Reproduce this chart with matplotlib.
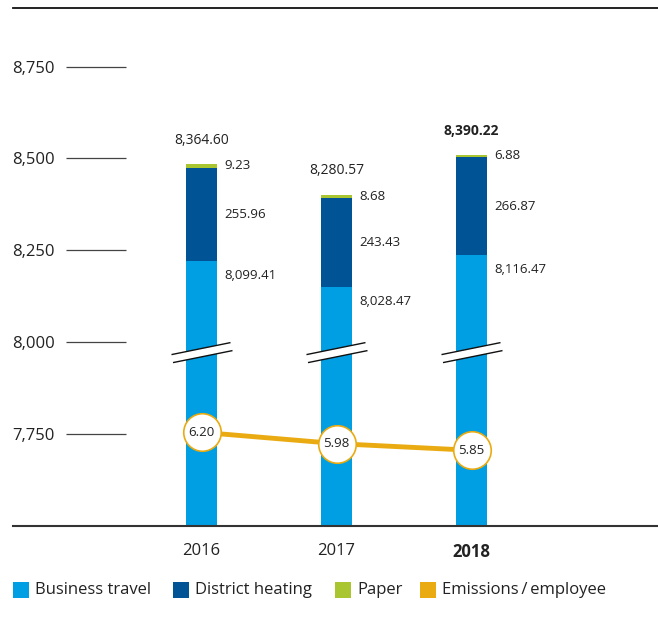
import matplotlib
matplotlib.use("Agg")
import matplotlib.pyplot as plt
from matplotlib.patches import Rectangle, Polygon
import numpy as np

plt.rcParams['font.family'] = ['Open Sans', 'Noto Sans', 'DejaVu Sans']

# Daten
years = ['2016', '2017', '2018']
business_travel = [8099.41, 8028.47, 8116.47]
district_heating = [255.96, 243.43, 266.87]
paper = [9.23, 8.68, 6.88]
totals = [8364.60, 8280.57, 8390.22]
emissions_per_employee = [6.20, 5.98, 5.85]
tick_labels = [7750, 8000, 8250, 8500, 8750]

# Farben
c_bt = '#009fe3'
c_dh = '#005395'
c_pa = '#a9c52f'
c_em = '#e9ab11'
c_txt = '#222222'

# die Achse ist im Original um ca. 120 verschoben beschriftet
axis_shift = 120

W, H = 658, 630
fig = plt.figure(figsize=(W / 100, H / 100), dpi=100)
ax = fig.add_axes([13 / W, (H - 526) / H, 645 / W, 518 / H])

x = np.arange(len(years))
bw = 31 / 135
bt = np.array(business_travel)
dh = np.array(district_heating)
pa = np.array(paper)

ax.bar(x, bt, bw, color=c_bt, zorder=2)
ax.bar(x, dh, bw, bottom=bt, color=c_dh, zorder=2)
ax.bar(x, pa, bw, bottom=bt + dh, color=c_pa, zorder=2)

ax.set_xlim(-188.5 / 135, -188.5 / 135 + 645 / 135)
ax.set_ylim(7498.5 - axis_shift, 8910 - axis_shift)

# y-Achse: Ticks als kurze Linien links
ax.spines['left'].set_position(('axes', 113 / 645))
ax.spines['left'].set_visible(False)
ax.spines['right'].set_visible(False)
ax.spines['top'].set_color('#111111')
ax.spines['top'].set_linewidth(1.3)
ax.spines['bottom'].set_color('#333333')
ax.spines['bottom'].set_linewidth(1.5)
ax.set_yticks([t - axis_shift for t in tick_labels])
ax.set_yticklabels([f'{t:,}' for t in tick_labels])
ax.tick_params(axis='y', direction='out', length=43.2, width=0.9,
               color='#444444', pad=7.9, labelsize=12, labelcolor=c_txt)
ax.set_xticks(x)
ax.set_xticklabels(years)
ax.tick_params(axis='x', length=0, pad=12, labelsize=12, labelcolor=c_txt)
ax.get_xticklabels()[-1].set_fontweight('bold')

# Beschriftungen
for i in range(len(years)):
    top = bt[i] + dh[i] + pa[i]
    ax.annotate(f'{totals[i]:,.2f}', (x[i], top), xytext=(0, 17.3),
                textcoords='offset points', ha='center', va='center',
                fontsize=10, color=c_txt,
                fontweight='bold' if i == len(years) - 1 else 'normal')
    xr = x[i] + bw / 2
    ax.annotate(f'{paper[i]:.2f}', (xr, bt[i] + dh[i] + pa[i] / 2), xytext=(5, 0),
                textcoords='offset points', ha='left', va='center', fontsize=9.5, color=c_txt)
    ax.annotate(f'{district_heating[i]:.2f}', (xr, bt[i] + dh[i] / 2), xytext=(5, 0),
                textcoords='offset points', ha='left', va='center', fontsize=9.5, color=c_txt)
    ax.annotate(f'{business_travel[i]:,.2f}', (xr, bt[i]), xytext=(5, -10),
                textcoords='offset points', ha='left', va='center', fontsize=9.5, color=c_txt)

# Achsenbruch
px = 1 / 135
py = (8910 - 7498.5) / 518
yc = 7971 - axis_shift
for xi in x:
    l1 = [(xi - 30 * px, yc - 2 * py), (xi + 29 * px, yc + 10 * py)]
    l2 = [(xi - 28.5 * px, yc - 10 * py), (xi + 31 * px, yc + 2 * py)]
    ax.add_patch(Polygon([l1[0], l1[1], l2[1], l2[0]], closed=True,
                         facecolor='white', edgecolor='none', zorder=3))
    ax.plot(*zip(*l1), color='#111111', lw=1, zorder=4, solid_capstyle='butt')
    ax.plot(*zip(*l2), color='#111111', lw=1, zorder=4, solid_capstyle='butt')

# Emissionen je Mitarbeiter auf zweiter Achse
ax2 = ax.twinx()
ax2.set_ylim(4.378, 14.45)
for s in ax2.spines.values():
    s.set_visible(False)
ax2.set_yticks([])
ax2.plot(x, emissions_per_employee, color=c_em, lw=3.5, zorder=2)
ax2.plot(x, emissions_per_employee, 'o', ms=27, mfc='white', mec=c_em, mew=1.2, zorder=3)
for xi, v in zip(x, emissions_per_employee):
    ax2.text(xi, v, f'{v:.2f}', ha='center', va='center', fontsize=9.5, color=c_txt, zorder=4)

# Legende
legend_items = [('Business travel', c_bt, 13), ('District heating', c_dh, 173),
                ('Paper', c_pa, 335), ('Emissions\u2009/\u2009employee', c_em, 420)]
for label, col, x0 in legend_items:
    fig.patches.append(Rectangle((x0 / W, (H - 598) / H), 16 / W, 16 / H,
                                 transform=fig.transFigure, facecolor=col, edgecolor='none'))
    fig.text((x0 + 22) / W, (H - 590) / H, label, ha='left', va='center',
             fontsize=12, color=c_txt)

plt.savefig('out.png', dpi=100)
